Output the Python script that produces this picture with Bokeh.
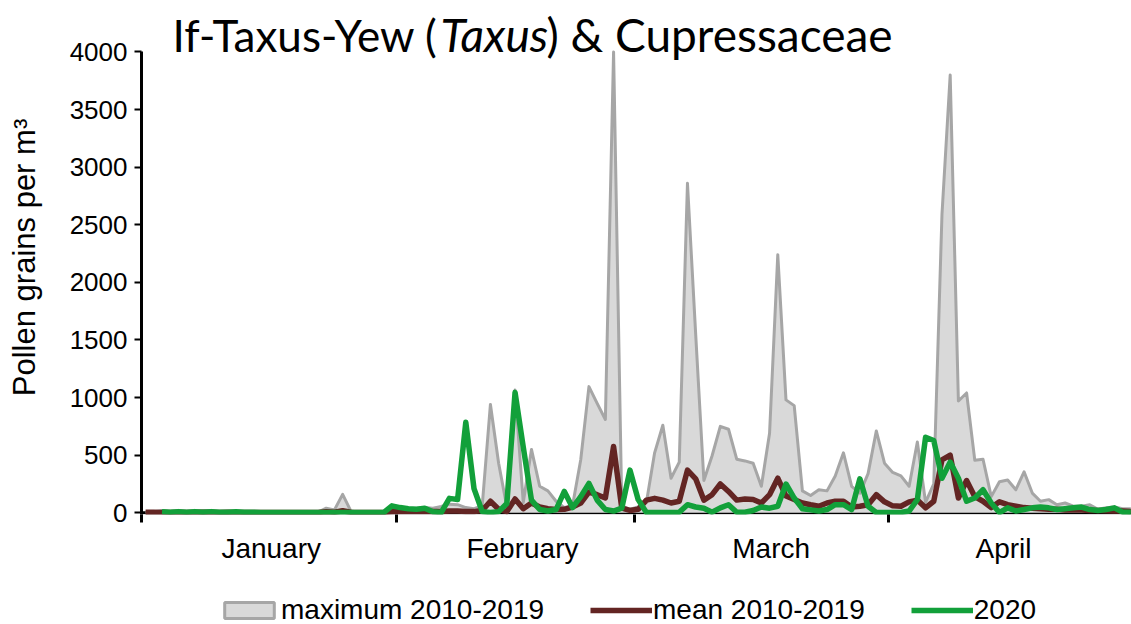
import numpy as np
from bokeh.plotting import figure
from bokeh.layouts import column
from bokeh.models import (ColumnDataSource, FixedTicker, Legend, LegendItem, Label,
                          Range1d, Span)
from bokeh.embed import file_html
from bokeh.resources import INLINE

# ---------------- data (day index 0 = 1 January 2020) ----------------
days = list(range(121))

max_2010_2019 = [
    5, 10, 20, 8, 10, 5, 8, 15, 20, 10,
    8, 5, 5, 5, 8, 5, 3, 3, 3, 3,
    3, 5, 40, 25, 160, 15, 5, 5, 5, 5,
    20, 30, 35, 40, 45, 40, 55, 75, 70, 45,
    35, 60, 940, 430, 50, 1065, 90, 550, 230, 190,
    100, 45, 60, 460, 1095, 950, 810, 4000, 60, 30,
    50, 90, 520, 760, 300, 440, 2860, 1550, 280, 495,
    750, 725, 465, 450, 430, 230, 690, 2240, 980, 930,
    190, 150, 200, 190, 320, 520, 230, 170, 340, 710,
    430, 350, 320, 230, 615, 90, 250, 2590, 3800, 970,
    1040, 455, 465, 140, 270, 285, 200, 356, 171, 100,
    114, 70, 85, 57, 57, 70, 30, 43, 50, 35,
    35,
]

mean_2010_2019 = [
    5, 5, 3, 3, 5, 3, 5, 5, 3, 3,
    5, 3, 3, 2, 2, 2, 2, 2, 2, 2,
    2, 3, 8, 5, 18, 5, 3, 3, 3, 3,
    8, 10, 10, 12, 12, 10, 12, 15, 15, 12,
    10, 20, 100, 30, 10, 120, 35, 85, 50, 35,
    28, 30, 50, 85, 180, 157, 128, 575, 40, 20,
    30, 110, 125, 110, 85, 100, 370, 295, 110, 157,
    250, 185, 110, 120, 115, 85, 157, 300, 145, 115,
    85, 70, 57, 85, 100, 100, 50, 57, 70, 157,
    95, 60, 57, 95, 110, 43, 100, 460, 500, 128,
    280, 140, 100, 45, 95, 70, 57, 45, 40, 35,
    30, 30, 25, 25, 25, 20, 20, 18, 15, 15,
    12,
]

nan = float("nan")
y2020 = [
    nan, nan, 10, 5, 10, 5, 10, 5, 10, 5,
    5, 8, 5, 5, 3, 3, 3, 2, 2, 2,
    2, 2, 2, 2, 2, 2, 2, 2, 2, 2,
    60, 45, 35, 30, 40, 8, 2, 125, 115, 785,
    210, 10, 2, 10, 80, 1045, 570, 110, 28, 15,
    28, 185, 45, 140, 255, 110, 28, 15, 40, 370,
    114, 2, 2, 2, 2, 5, 70, 50, 40, 5,
    43, 70, 5, 5, 20, 50, 40, 57, 250, 128,
    35, 25, 15, 28, 70, 70, 28, 295, 57, 2,
    2, 2, 2, 15, 114, 655, 627, 300, 440, 300,
    100, 128, 200, 85, 2, 43, 15, 28, 43, 50,
    43, 28, 35, 43, 50, 28, 20, 28, 43, 5,
    5,
]

month_names = ["January", "February", "March", "April"]
month_label_pos = [15.3, 45.9, 76.2, 104.5]
month_bounds = [-0.5, 30.5, 59.5, 90.5, 120.5]
y_ticks = [0, 500, 1000, 1500, 2000, 2500, 3000, 3500, 4000]
title_pieces = ["If-Taxus-Yew (", "Taxus", ") & Cupressaceae"]
legend_labels = ["maximum 2010-2019", "mean 2010-2019", "2020"]

# ---------------- main figure ----------------
W = 1131
HM, HL = 566, 58          # main chart height, legend strip height
BORDER_L, BORDER_B = 141, 44
FRAME_W = W - BORDER_L
FRAME_H = HM - BORDER_B
PX_PER_DAY = 8.21
PX_PER_UNIT = 0.117
Y0 = -15
x_range = Range1d(-0.5, -0.5 + FRAME_W / PX_PER_DAY)
y_range = Range1d(Y0, Y0 + FRAME_H / PX_PER_UNIT)

p = figure(width=W, height=HM, output_backend="svg", toolbar_location=None,
           x_range=x_range, y_range=y_range,
           min_border_left=BORDER_L, min_border_right=0, min_border_top=0,
           min_border_bottom=BORDER_B)
p.outline_line_color = None
p.grid.visible = False
p.background_fill_color = "white"
p.border_fill_color = "white"

src = ColumnDataSource(dict(
    x=np.array(days, dtype=float),
    mx=np.array(max_2010_2019, dtype=float),
    mn=np.array(mean_2010_2019, dtype=float),
    y20=np.array(y2020, dtype=float),
    zero=np.zeros(len(days)),
))

GREY_FILL = "#D9D9D9"
GREY_LINE = "#A6A6A6"
BROWN = "#632523"
GREEN = "#12A03A"
SERIES_W = 5.5

# zero baseline (the category axis line), under the series
p.add_layout(Span(location=0, dimension="width", line_color="black",
                  line_width=3, level="underlay"))

p.varea(x="x", y1="zero", y2="mx", source=src, fill_color=GREY_FILL)
p.line("x", "mx", source=src, line_color=GREY_LINE, line_width=3, line_join="round")
p.line("x", "mn", source=src, line_color=BROWN, line_width=SERIES_W, line_join="round")
p.line("x", "y20", source=src, line_color=GREEN, line_width=SERIES_W, line_join="round")

# ---------------- axes ----------------
xa = p.xaxis[0]
xa.ticker = FixedTicker(ticks=month_label_pos, minor_ticks=month_bounds)
xa.major_label_overrides = {pos: name for pos, name in zip(month_label_pos, month_names)}
xa.axis_line_color = None
xa.major_tick_out = 0
xa.major_tick_in = 0
xa.minor_tick_out = 8
xa.minor_tick_in = 0
xa.minor_tick_line_color = "black"
xa.minor_tick_line_width = 3
xa.major_label_text_font = "Liberation Sans"
xa.major_label_text_font_size = "28px"
xa.major_label_text_color = "black"
xa.major_label_standoff = 10

ya = p.yaxis[0]
ya.ticker = FixedTicker(ticks=y_ticks, minor_ticks=[])
ya.bounds = (Y0, 4000)
ya.axis_line_color = "black"
ya.axis_line_width = 3
ya.major_tick_out = 7
ya.major_tick_in = 0
ya.major_tick_line_color = "black"
ya.major_tick_line_width = 2
ya.major_label_text_font = "Liberation Sans"
ya.major_label_text_font_size = "26px"
ya.major_label_text_color = "black"
ya.major_label_standoff = 7
ya.axis_label = "Pollen grains per m³"
ya.axis_label_text_font = "Liberation Sans"
ya.axis_label_text_font_size = "31px"
ya.axis_label_text_font_style = "normal"
ya.axis_label_text_color = "black"
ya.axis_label_standoff = 25

# ---------------- title (three pieces, middle italic), inside the frame ----------------
title_x = [31, 299, 405]
title_style = ["normal", "italic", "normal"]
title_size = ["44px", "46px", "46px"]
for txt, style, size, xoff in zip(title_pieces, title_style, title_size, title_x):
    p.add_layout(Label(x=xoff, y=FRAME_H - 42, x_units="screen", y_units="screen",
                       text=txt, text_font="Lato", text_font_size=size,
                       text_font_style=style, text_color="black",
                       text_baseline="alphabetic"))

# ---------------- legend strip ----------------
pl = figure(width=W, height=HL, output_backend="svg", toolbar_location=None,
            x_range=Range1d(0, 1), y_range=Range1d(0, 1),
            min_border_left=0, min_border_right=0, min_border_top=0, min_border_bottom=0)
pl.axis.visible = False
pl.grid.visible = False
pl.outline_line_color = None
pl.background_fill_color = "white"
pl.border_fill_color = "white"
# legend keys (kept outside the strip's visible range; only their legend swatches show)
key_box = pl.quad(left=[-5], right=[-4], top=[-4], bottom=[-5], fill_color=GREY_FILL,
                  line_color=GREY_LINE, line_width=3)
key_mean = pl.line(x=[-5, -4], y=[-5, -4], line_color=BROWN, line_width=SERIES_W)
key_2020 = pl.line(x=[-5, -4], y=[-5, -4], line_color=GREEN, line_width=SERIES_W)

legend = Legend(items=[LegendItem(label=legend_labels[0], renderers=[key_box]),
                       LegendItem(label=legend_labels[1], renderers=[key_mean]),
                       LegendItem(label=legend_labels[2], renderers=[key_2020])],
                location=(77, -2), orientation="horizontal",
                glyph_width=62, glyph_height=20, label_height=20,
                label_standoff=1, padding=0, margin=0, spacing=46,
                border_line_color=None, background_fill_alpha=0,
                label_text_font="Liberation Sans", label_text_font_size="28px",
                label_text_color="black")
pl.add_layout(legend)

layout = column(p, pl, spacing=0)
open("out.html", "w").write(file_html(layout, INLINE))
